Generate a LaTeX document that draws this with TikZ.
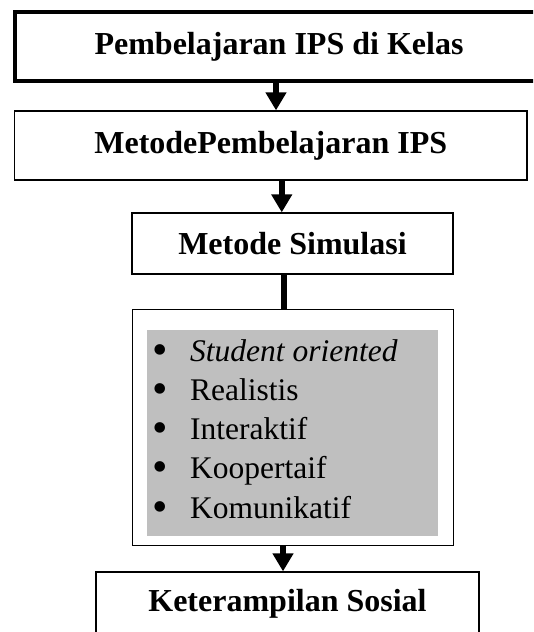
\documentclass[tikz,border=0pt]{standalone}
\usepackage{fontspec}
\setmainfont{Liberation Serif}
\usepackage{graphicx}
\usetikzlibrary{arrows.meta}

\begin{document}
\begin{tikzpicture}[x=1pt,y=-1pt,
    kotak/.style={draw,line width=1.3pt,inner sep=0pt,font=\fontsize{32}{38}\selectfont\bfseries},
    panah/.style={line width=5.5pt,-{Triangle[width=20pt,length=18pt]}},
    butir/.style={anchor=base west,inner sep=0pt,font=\fontsize{31.5}{38}\selectfont}]
      \clip (0,0) rectangle (533,632);
      \node[kotak,line width=4pt,minimum width=528pt,minimum height=69pt] (kelas) at (279,46.5) {Pembelajaran IPS di Kelas};
      \node[kotak,minimum width=512.5pt,minimum height=69pt] (metode) at (270.75,145.5) {MetodePembelajaran IPS};
      \node[kotak,minimum width=321pt,minimum height=61pt] (simulasi) at (292.5,243.5) {Metode Simulasi};
      \node[kotak,line width=1pt,minimum width=321pt,minimum height=236pt] (ciri) at (292.5,427) {};
      \node[fill=gray!50,inner sep=0pt,minimum width=291pt,minimum height=206pt] (latar) at (292.5,433) {};
      \node[kotak,minimum width=383pt,minimum height=64pt] (sosial) at (287.5,604) {Keterampilan Sosial};
      \foreach \teks [count=\i from 0] in {\textit{Student oriented},Realistis,Interaktif,Koopertaif,Komunikatif} {
      \node[butir] (butir\i) at (152,361+39.25*\i) {\makebox[38pt][l]{\smash{\raisebox{-3pt}{\scalebox{1.4}{\textbullet}}}}\teks};
      }
      \draw[panah] ([xshift=-3pt]kelas.south) -- ([xshift=-3pt]kelas.south |- metode.north);
      \draw[panah] ([xshift=11pt]metode.south) -- ([xshift=11pt]metode.south |- simulasi.north);
      \draw[line width=5.5pt] ([xshift=-8.5pt]simulasi.south) -- ([xshift=-8.5pt]simulasi.south |- ciri.north);
      \draw[panah] ([xshift=-9.5pt]ciri.south) -- ([xshift=-9.5pt]ciri.south |- sosial.north);
    \end{tikzpicture}
\end{document}
